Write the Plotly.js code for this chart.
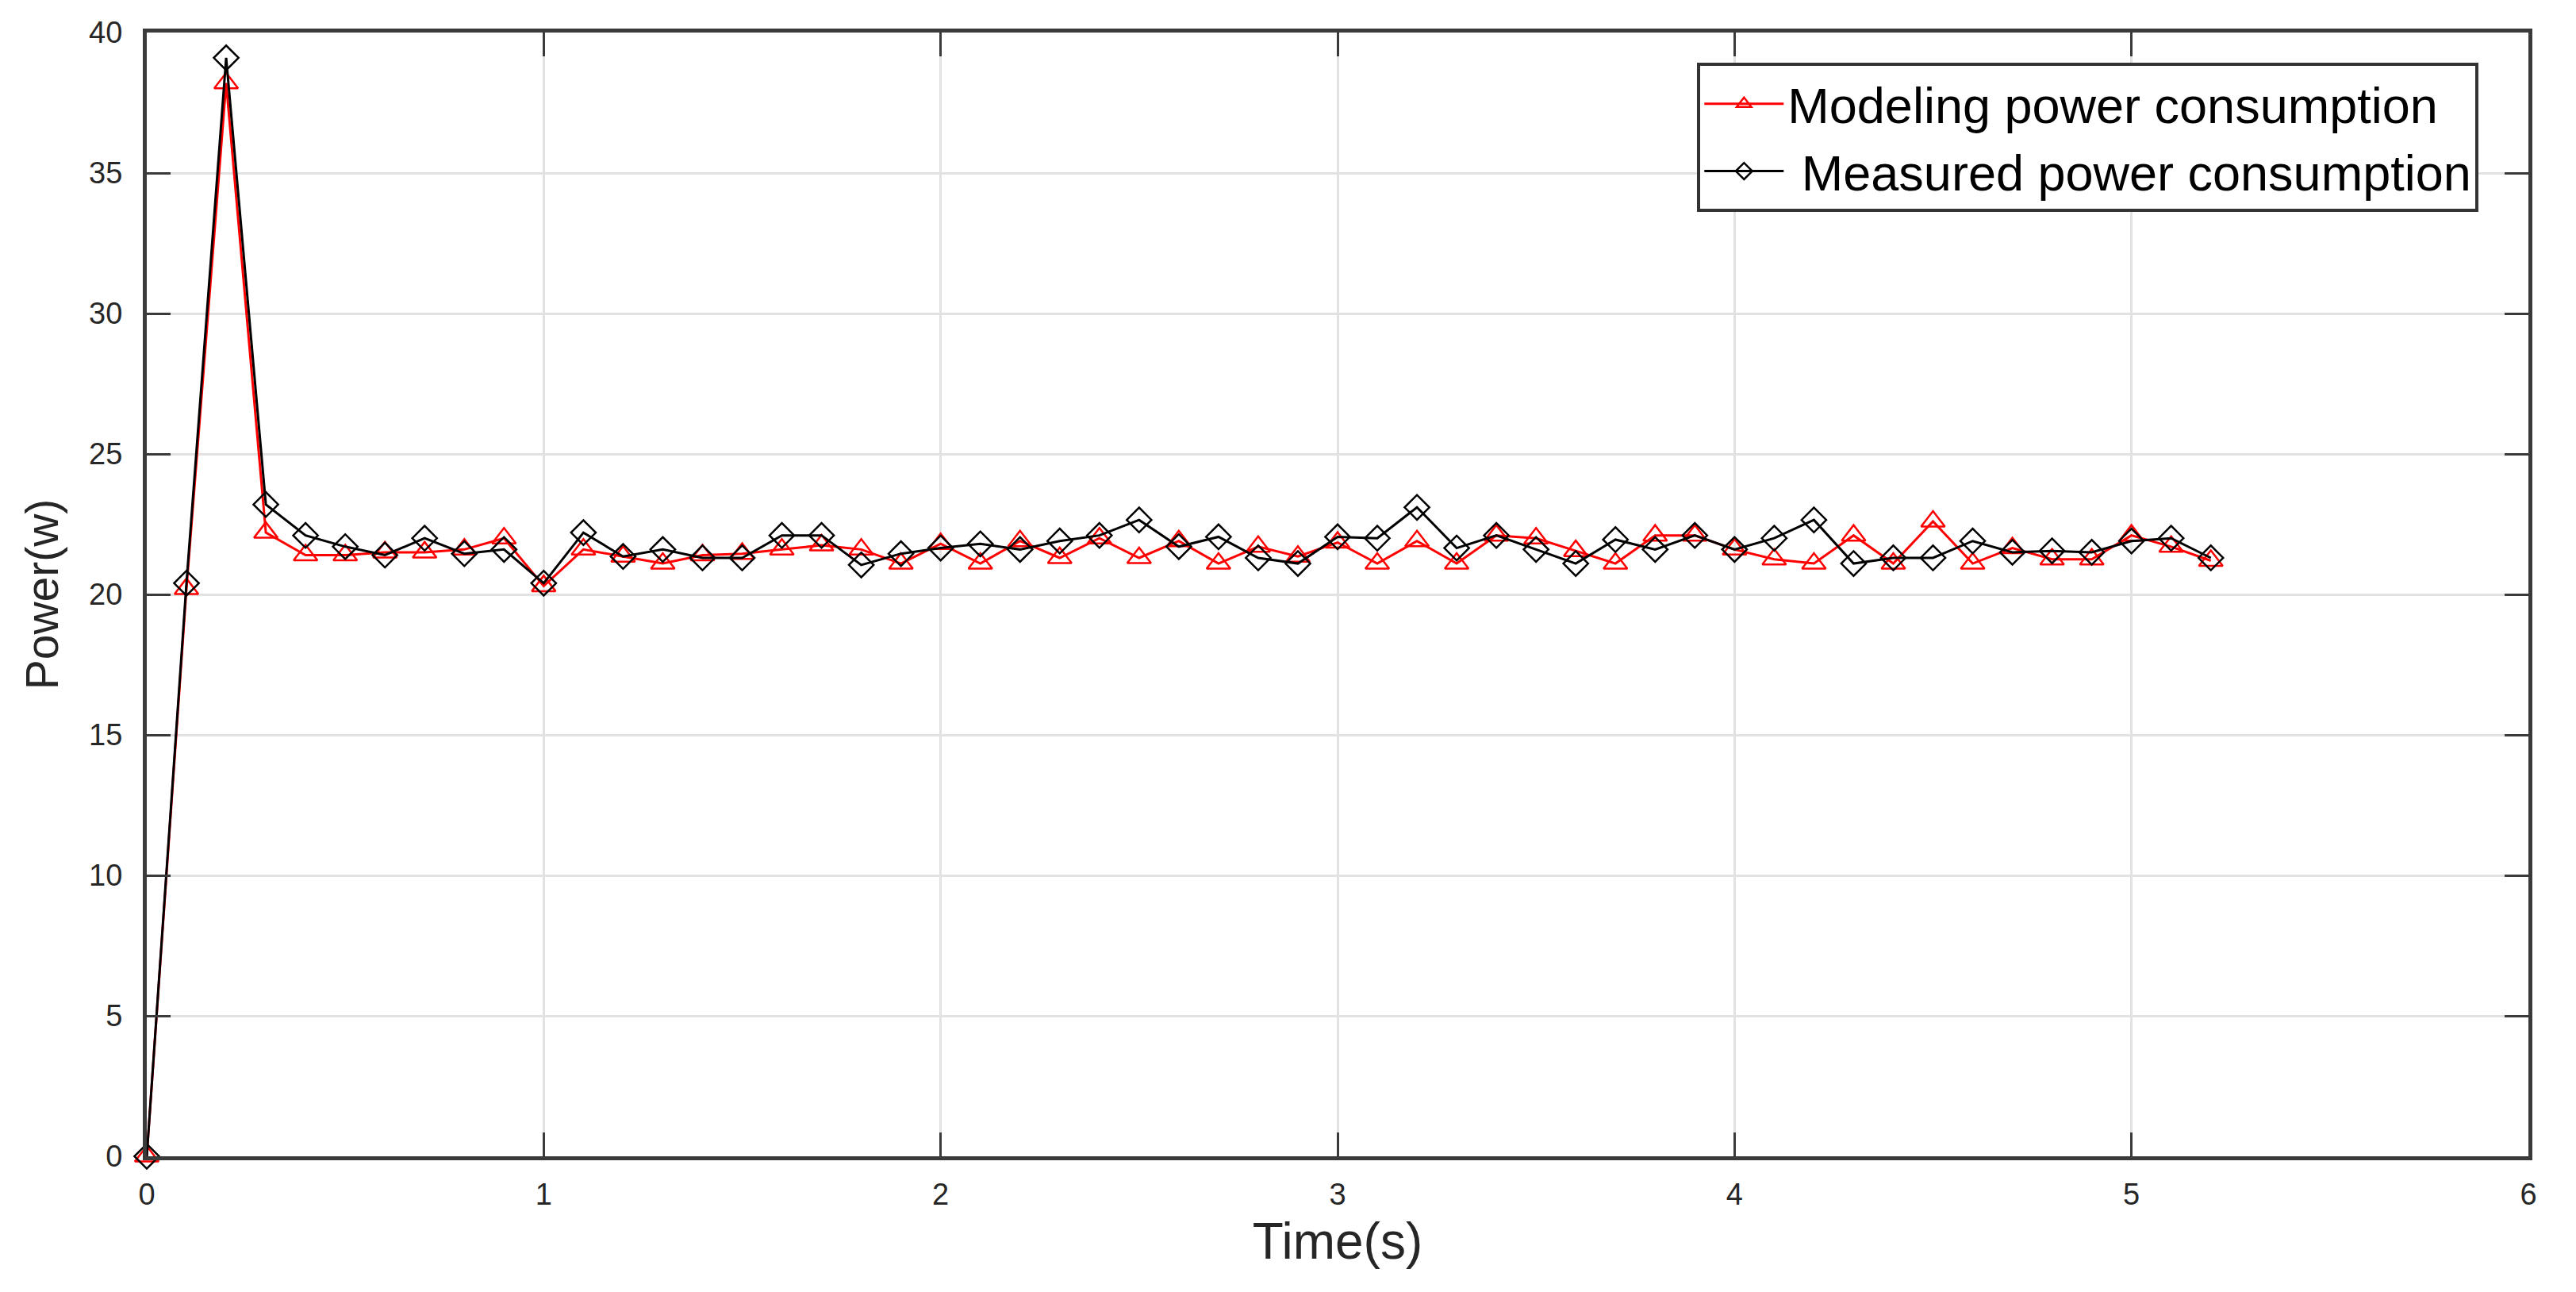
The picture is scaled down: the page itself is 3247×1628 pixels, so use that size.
<!DOCTYPE html>
<html>
<head>
<meta charset="utf-8">
<script src="https://cdn.plot.ly/plotly-3.0.1.min.js"></script>
<style>
  html, body { margin: 0; padding: 0; background: #ffffff; }
  #graph { width: 3247px; height: 1628px; }
</style>
</head>
<body>
<div id="graph"></div>
<script>
// time samples (s)
var time_s = [0, 0.1, 0.2, 0.3, 0.4, 0.5, 0.6, 0.7, 0.8, 0.9,
              1.0, 1.1, 1.2, 1.3, 1.4, 1.5, 1.6, 1.7, 1.8, 1.9,
              2.0, 2.1, 2.2, 2.3, 2.4, 2.5, 2.6, 2.7, 2.8, 2.9,
              3.0, 3.1, 3.2, 3.3, 3.4, 3.5, 3.6, 3.7, 3.8, 3.9,
              4.0, 4.1, 4.2, 4.3, 4.4, 4.5, 4.6, 4.7, 4.8, 4.9,
              5.0, 5.1, 5.2];

// modeling power consumption (w)
var modeling = [0, 20.2, 38.2, 22.2, 21.4, 21.4, 21.5, 21.5, 21.6, 22.0,
                20.3, 21.6, 21.35, 21.1, 21.4, 21.45, 21.6, 21.75, 21.6, 21.1,
                21.8, 21.1, 21.9, 21.3, 22.0, 21.3, 21.9, 21.1, 21.7, 21.35,
                21.85, 21.1, 21.9, 21.1, 22.1, 22.0, 21.55, 21.1, 22.1, 22.1,
                21.6, 21.25, 21.1, 22.1, 21.1, 22.6, 21.1, 21.65, 21.25, 21.25,
                22.1, 21.7, 21.2];

// measured power consumption (w)
var measured = [0, 20.4, 39.1, 23.2, 22.1, 21.7, 21.4, 22.0, 21.45, 21.6,
                20.4, 22.2, 21.35, 21.6, 21.3, 21.3, 22.1, 22.1, 21.05, 21.45,
                21.65, 21.8, 21.6, 21.9, 22.1, 22.65, 21.7, 22.05, 21.3, 21.1,
                22.05, 22.0, 23.1, 21.65, 22.1, 21.6, 21.1, 21.95, 21.6, 22.1,
                21.6, 22.0, 22.65, 21.1, 21.3, 21.3, 21.9, 21.5, 21.55, 21.5,
                21.9, 22.0, 21.3];

var x_ticks = [0, 1, 2, 3, 4, 5, 6];
var y_ticks = [0, 5, 10, 15, 20, 25, 30, 35, 40];

var series_names = ["Modeling power consumption", "\u00a0Measured power consumption"];

var font_family = "Liberation Sans, Arial, sans-serif";
var axis_color = "#3a3a3a";

var plot_data = [
    {
        type: "scatter",
        mode: "lines+markers",
        x: time_s,
        y: modeling,
        name: series_names[0],
        line: { color: "#ff0000", width: 3 },
        marker: { symbol: "triangle-up-open", size: 26, color: "#ff0000", line: { width: 2.5 } },
        cliponaxis: false
    },
    {
        type: "scatter",
        mode: "lines+markers",
        x: time_s,
        y: measured,
        name: series_names[1],
        line: { color: "#000000", width: 3 },
        marker: { symbol: "diamond-open", size: 24, color: "#000000", line: { width: 2.5 } },
        cliponaxis: false
    }
];

var layout = {
    width: 3247,
    height: 1628,
    paper_bgcolor: "#ffffff",
    plot_bgcolor: "#ffffff",
    font: { family: font_family, size: 38, color: "#262626" },
    margin: { l: 185, r: 60, t: 41, b: 171, pad: 0 },
    showlegend: true,
    legend: {
        x: 0.651,
        y: 0.973,
        xanchor: "left",
        yanchor: "top",
        bgcolor: "#ffffff",
        bordercolor: "#333333",
        borderwidth: 4,
        itemwidth: 100,
        font: { family: font_family, size: 63, color: "#000000" },
        tracegroupgap: 0
    },
    xaxis: {
        range: [0, 6],
        tickvals: x_ticks,
        ticktext: x_ticks.map(String),
        ticks: "inside",
        ticklen: 30,
        tickwidth: 3,
        tickcolor: axis_color,
        showline: true,
        linecolor: axis_color,
        linewidth: 5,
        mirror: "allticks",
        showgrid: true,
        gridcolor: "#e2e2e2",
        gridwidth: 3,
        zeroline: false,
        ticklabelstandoff: 10,
        tickfont: { size: 38, color: "#262626" },
        title: { text: "Time(s)", font: { size: 64, color: "#262626" }, standoff: 18 }
    },
    yaxis: {
        range: [0, 40],
        tickvals: y_ticks,
        ticktext: y_ticks.map(String),
        ticks: "inside",
        ticklen: 30,
        tickwidth: 3,
        tickcolor: axis_color,
        showline: true,
        linecolor: axis_color,
        linewidth: 5,
        mirror: "allticks",
        showgrid: true,
        gridcolor: "#e2e2e2",
        gridwidth: 3,
        zeroline: false,
        ticklabelstandoff: 18,
        tickfont: { size: 38, color: "#262626" },
        title: { text: "Power(w)", font: { size: 57, color: "#262626" }, standoff: 22 }
    }
};

Plotly.newPlot("graph", plot_data, layout, { staticPlot: true, displayModeBar: false });
</script>
</body>
</html>
